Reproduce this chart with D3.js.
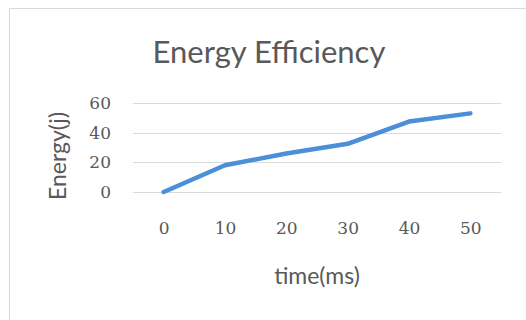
<!DOCTYPE html>
<html>
<head>
<meta charset="utf-8">
<script src="https://cdn.jsdelivr.net/npm/d3@7"></script>
<style>
  html, body { margin: 0; padding: 0; background: #fff; }
  svg { display: block; }
</style>
</head>
<body>
<svg id="chart" width="526" height="320"></svg>
<script>
// Energy consumed over time
const times = [0, 10, 20, 30, 40, 50];
const energy = [0, 18, 26, 32.5, 47.5, 53];
const yTicks = [0, 20, 40, 60];

const title = "Energy Efficiency";
const xTitle = "time(ms)";
const yTitle = "Energy(j)";

const svg = d3.select("#chart");
const W = 526, H = 320;
const textColor = "#595959";
const tickFont = "'DejaVu Serif', 'Liberation Serif', serif";
const labelFont = "Lato, 'Open Sans', sans-serif";

// chart frame
svg.append("rect")
  .attr("x", 9.5).attr("y", 8.5)
  .attr("width", W + 10).attr("height", H + 10)
  .attr("fill", "#fff").attr("stroke", "#d9d9d9").attr("stroke-width", 1);

const plot = { left: 133, right: 501, top: 103, bottom: 192 };

const x = d3.scalePoint()
  .domain(times)
  .range([plot.left, plot.right])
  .padding(0.5);

const y = d3.scaleLinear()
  .domain([0, 60])
  .range([plot.bottom, plot.top]);

// gridlines
svg.append("g")
  .selectAll("line")
  .data(yTicks)
  .join("line")
  .attr("x1", plot.left).attr("x2", plot.right)
  .attr("y1", d => Math.round(y(d)) + 0.5)
  .attr("y2", d => Math.round(y(d)) + 0.5)
  .attr("stroke", "#d9d9d9").attr("stroke-width", 1);

// y axis labels
const yAxis = d3.axisLeft(y).tickValues(yTicks).tickSize(0).tickPadding(0);
const gy = svg.append("g").attr("transform", `translate(111,0)`).call(yAxis);
gy.select(".domain").remove();
gy.selectAll("text")
  .attr("fill", textColor)
  .style("font-family", tickFont)
  .style("font-size", "17px");

// x axis labels
const xAxis = d3.axisBottom(x).tickSize(0).tickPadding(0);
const gx = svg.append("g").attr("transform", `translate(0,222)`).call(xAxis);
gx.select(".domain").remove();
gx.selectAll("text")
  .attr("fill", textColor)
  .style("font-family", tickFont)
  .style("font-size", "17px");

// data line
const line = d3.line()
  .x((d, i) => x(times[i]))
  .y(d => y(d));

svg.append("path")
  .datum(energy)
  .attr("d", line)
  .attr("fill", "none")
  .attr("stroke", "#4a8fd8")
  .attr("stroke-width", 4.5)
  .attr("stroke-linejoin", "round")
  .attr("stroke-linecap", "round");

// titles
svg.append("text")
  .attr("x", 269).attr("y", 63)
  .attr("text-anchor", "middle")
  .attr("fill", textColor)
  .style("font-family", labelFont)
  .style("font-size", "31px")
  .text(title);

svg.append("text")
  .attr("x", 317).attr("y", 284)
  .attr("text-anchor", "middle")
  .attr("fill", textColor)
  .style("font-family", labelFont)
  .style("font-size", "23px")
  .text(xTitle);

svg.append("text")
  .attr("transform", "translate(66,156) rotate(-90)")
  .attr("text-anchor", "middle")
  .attr("fill", textColor)
  .style("font-family", labelFont)
  .style("font-size", "23px")
  .text(yTitle);
</script>
</body>
</html>
